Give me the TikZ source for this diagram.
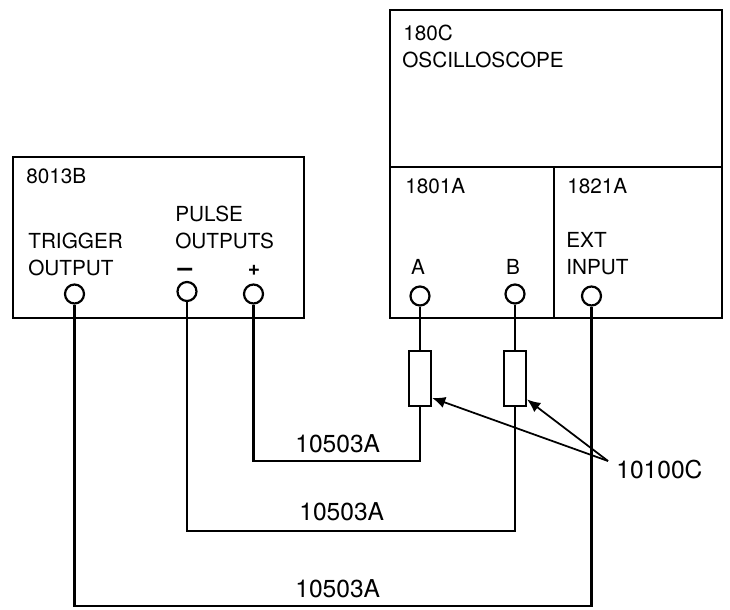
\documentclass[tikz,border=0pt]{standalone}
\usepackage{fontspec}
\setmainfont{TeX Gyre Heros}
\usetikzlibrary{arrows.meta, positioning}
\tikzset{
  unit/.style={draw, rectangle, line width=1.4pt, outer sep=0pt},
  jack/.style={draw, circle, line width=1.25pt, minimum size=0.38cm, inner sep=0pt},
  probe/.style={draw, rectangle, line width=1.25pt, minimum width=0.44cm, minimum height=1.1cm, inner sep=0pt},
  lbl/.style={anchor=base west, inner sep=0pt, font=\fontsize{11.8}{14}\selectfont},
  biglbl/.style={lbl, font=\fontsize{14}{16}\selectfont},
  wire/.style={line width=1.25pt},
  pointer/.style={-{Latex[length=7.5pt, width=6.5pt]}, line width=1pt}
}

\begin{document}
\begin{tikzpicture}[x=0.02cm, y=-0.02cm]
\useasboundingbox (0, 0) rectangle (730, 609);
\node[unit, minimum width=5.82cm, minimum height=3.22cm] (gen) at (158.5, 237.5) {};
\node[unit, minimum width=6.64cm, minimum height=3.14cm] (scope) at (556, 88.5) {};
\node[unit, minimum width=3.28cm, minimum height=3.02cm] (ampl) at (472, 242.5) {};
\node[unit, minimum width=3.36cm, minimum height=3.02cm] (trig) at (638, 242.5) {};

\node[jack] (trigout) at (74.5, 294) {};
\node[jack] (minus) at (187, 291.5) {};
\node[jack] (plus) at (253.5, 294) {};
\node[jack] (chA) at (420, 296) {};
\node[jack] (chB) at (515, 294) {};
\node[jack] (ext) at (591.5, 296) {};
\node[probe] (atA) at (420, 378.5) {};
\node[probe] (atB) at (515, 378.5) {};

\node[lbl] (gentxt) at (26, 183) {8013B};
\node[lbl] (pulsetxt) at (175, 221) {PULSE};
\node[lbl] (outstxt) at (175, 248) {OUTPUTS};
\node[lbl] (trigtxt) at (28, 248) {TRIGGER};
\node[lbl] (outtxt) at (28, 275) {OUTPUT};
\node[lbl, anchor=base, font=\fontsize{15}{16}\selectfont\bfseries] (minustxt) at (185, 276) {--};
\node[lbl, anchor=base, font=\fontsize{12}{14}\selectfont\bfseries] (plustxt) at (254, 275) {+};
\node[lbl] (scopetxt) at (403, 40) {180C};
\node[lbl] (osctxt) at (402, 67) {OSCILLOSCOPE};
\node[lbl] (ampltxt) at (405, 193) {1801A};
\node[lbl] (modtxt) at (567, 193) {1821A};
\node[lbl] (exttxt) at (566, 247) {EXT};
\node[lbl] (inptxt) at (566, 274) {INPUT};
\node[lbl, anchor=base] (Atxt) at (418, 274) {A};
\node[lbl, anchor=base] (Btxt) at (513, 274) {B};
\node[biglbl] (cableA) at (295, 452) {10503A};
\node[biglbl] (cableB) at (299, 520) {10503A};
\node[biglbl] (cableC) at (295, 597) {10503A};
\node[biglbl] (attxt) at (616, 478) {10100C};

\coordinate (cornerA) at (420, 461);
\coordinate (cornerB) at (515, 531);
\coordinate (cornerC) at (591.5, 606);
\coordinate (fork) at (608, 461);

\draw[wire] (chA) -- (atA);
\draw[wire] (chB) -- (atB);
\draw[wire] (plus) |- (cornerA) -- (atA);
\draw[wire] (minus) |- (cornerB) -- (atB);
\draw[wire] (trigout) |- (cornerC) -- (ext);
\draw[pointer] (fork) -- (atA.-58);
\draw[pointer] (fork) -- (atB.-60);
\end{tikzpicture}
\end{document}
